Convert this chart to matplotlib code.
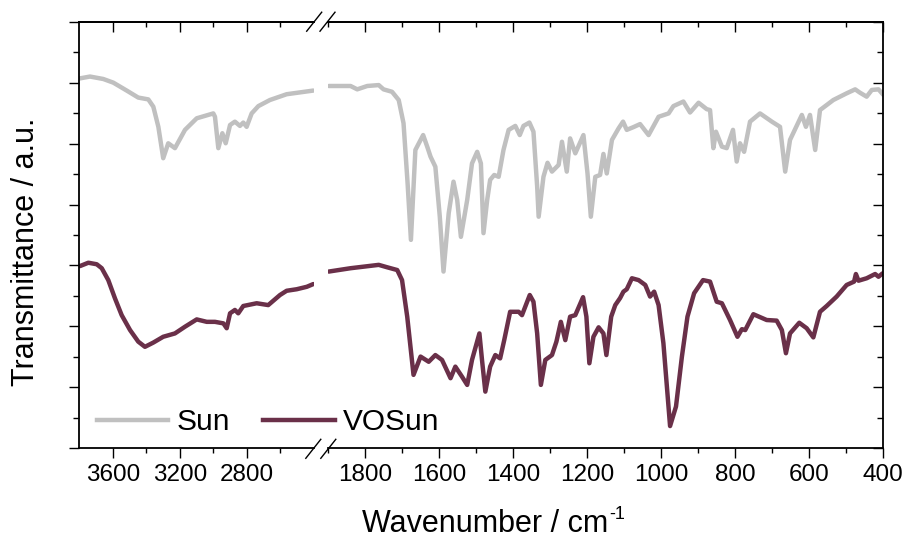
import numpy as np
import matplotlib
matplotlib.use('Agg')
import matplotlib.pyplot as plt
from matplotlib.lines import Line2D
from matplotlib.ticker import FixedLocator, MultipleLocator

plt.rcParams.update({'font.family': ['Liberation Sans', 'DejaVu Sans']})

GREY = '#c0c0c0'
PLUM = '#6a3049'

# Sun, high-wavenumber window (cm-1, a.u.)
sun_hi_wn = [3796, 3736, 3657, 3597, 3517, 3448, 3388, 3358, 3328, 3299, 3269, 3229, 3169,
             3099, 3000, 2990, 2970, 2946, 2926, 2900, 2871, 2841, 2821, 2801, 2771, 2731,
             2662, 2562, 2403]
sun_hi_t = [12.14, 12.20, 12.12, 12.00, 11.74, 11.51, 11.45, 11.21, 10.55, 9.52, 10.01, 9.85,
            10.45, 10.83, 10.99, 10.88, 9.85, 10.34, 10.01, 10.61, 10.72, 10.58, 10.69, 10.55,
            10.99, 11.23, 11.43, 11.62, 11.74]

# Sun, fingerprint window
sun_fp_wn = [1898, 1839, 1821, 1794, 1763, 1750, 1727, 1709, 1696, 1685, 1676, 1664, 1643,
             1632, 1623, 1610, 1598, 1588, 1574, 1561, 1551, 1541, 1524, 1511, 1497, 1487,
             1480, 1470, 1462, 1451, 1439, 1426, 1412, 1394, 1382, 1372, 1356, 1345, 1335,
             1331, 1318, 1307, 1295, 1277, 1268, 1255, 1246, 1232, 1210, 1199, 1190, 1178,
             1165, 1156, 1147, 1133, 1115, 1103, 1093, 1075, 1057, 1034, 1007, 980, 967,
             940, 922, 899, 877, 868, 859, 852, 836, 823, 806, 796, 787, 776, 760, 733,
             701, 679, 665, 652, 620, 609, 598, 584, 571, 535, 499, 476, 463, 445, 431,
             413, 400]
sun_fp_t = [11.89, 11.89, 11.78, 11.89, 11.92, 11.78, 11.70, 11.43, 10.67, 8.70, 6.84, 9.79,
            10.28, 9.90, 9.57, 9.24, 7.60, 5.80, 7.71, 8.75, 8.15, 6.94, 8.15, 9.35, 9.73,
            9.35, 7.06, 8.15, 8.81, 8.97, 8.91, 9.79, 10.45, 10.58, 10.28, 10.58, 10.69,
            10.39, 8.59, 7.60, 8.91, 9.37, 9.08, 9.30, 10.06, 9.08, 10.17, 9.68, 10.28, 9.02,
            7.60, 8.91, 8.97, 9.66, 9.02, 10.12, 10.50, 10.72, 10.45, 10.54, 10.64, 10.28,
            10.88, 10.99, 11.23, 11.38, 11.02, 11.34, 11.13, 11.10, 9.85, 10.39, 9.90, 9.85,
            10.45, 9.41, 10.01, 9.73, 10.72, 10.99, 10.72, 10.55, 9.08, 10.12, 10.94, 10.55,
            10.94, 9.79, 11.10, 11.43, 11.65, 11.78, 11.67, 11.54, 11.76, 11.78, 11.60]

# VOSun, high-wavenumber window
vos_hi_wn = [3796, 3746, 3696, 3666, 3627, 3587, 3547, 3497, 3448, 3408, 3358, 3299, 3229,
             3169, 3099, 3039, 2990, 2940, 2920, 2900, 2871, 2851, 2821, 2741, 2672, 2602,
             2562, 2502, 2442, 2403]
vos_hi_t = [5.98, 6.09, 6.04, 5.91, 5.52, 4.92, 4.37, 3.88, 3.50, 3.33, 3.47, 3.66, 3.77,
            3.99, 4.23, 4.15, 4.15, 4.10, 3.94, 4.43, 4.54, 4.43, 4.67, 4.76, 4.70, 5.03,
            5.17, 5.22, 5.30, 5.39]

# VOSun, fingerprint window
vos_fp_wn = [1898, 1839, 1763, 1740, 1713, 1700, 1686, 1669, 1650, 1628, 1610, 1592, 1569,
             1556, 1538, 1524, 1511, 1491, 1484, 1475, 1462, 1448, 1435, 1424, 1408, 1385,
             1376, 1355, 1345, 1335, 1325, 1313, 1295, 1283, 1271, 1259, 1246, 1232, 1211,
             1202, 1194, 1183, 1169, 1156, 1148, 1135, 1124, 1111, 1102, 1093, 1079, 1061,
             1043, 1030, 1019, 1007, 994, 976, 960, 944, 929, 911, 887, 868, 850, 836, 814,
             794, 782, 773, 751, 715, 688, 674, 663, 652, 627, 607, 589, 571, 553, 526, 499,
             479, 474, 467, 445, 422, 413, 402]
vos_fp_t = [5.80, 5.91, 6.02, 5.94, 5.85, 5.52, 4.32, 2.41, 3.01, 2.84, 3.06, 2.90, 2.30,
            2.68, 2.35, 2.08, 2.90, 3.77, 2.90, 1.86, 2.68, 3.06, 2.95, 3.55, 4.48, 4.48,
            4.37, 5.03, 4.81, 3.77, 2.08, 2.90, 3.06, 3.50, 4.15, 3.55, 4.32, 4.37, 4.96,
            4.32, 2.79, 3.66, 3.97, 3.77, 3.06, 4.32, 4.70, 4.93, 5.14, 5.22, 5.58, 5.52,
            5.36, 4.98, 5.14, 4.70, 3.45, 0.73, 1.37, 3.01, 4.32, 5.09, 5.52, 5.47, 4.81,
            4.76, 4.21, 3.66, 3.91, 3.88, 4.40, 4.21, 4.19, 3.88, 3.12, 3.77, 4.12, 3.94,
            3.64, 4.48, 4.67, 4.98, 5.36, 5.47, 5.72, 5.50, 5.58, 5.72, 5.63, 5.74]

W, H = 909, 538


def px_box(x0, x1, y0, y1):
    return [x0 / W, 1 - y1 / H, (x1 - x0) / W, (y1 - y0) / H]


def style_axes(ax, side, xmajor, xminor):
    ax.set_ylim(0, 14)
    ax.yaxis.set_major_locator(MultipleLocator(2))
    ax.yaxis.set_minor_locator(MultipleLocator(1))
    ax.xaxis.set_major_locator(FixedLocator(xmajor))
    ax.xaxis.set_minor_locator(FixedLocator(xminor))
    for sp in ax.spines.values():
        sp.set_linewidth(1.3)
    ax.spines['right' if side == 'left' else 'left'].set_visible(False)
    ax.tick_params(axis='x', which='major', direction='out', length=7, width=1, pad=4, labelsize=17.5)
    ax.tick_params(axis='x', which='minor', direction='out', length=3.5, width=1)
    if side == 'left':
        ax.tick_params(axis='y', which='major', direction='out', length=7, width=1, labelleft=False)
        ax.tick_params(axis='y', which='minor', direction='out', length=4, width=1)
    else:
        ax.yaxis.tick_right()
        ax.tick_params(axis='y', which='major', direction='in', length=7, width=1, labelright=False)
        ax.tick_params(axis='y', which='minor', direction='in', length=4, width=1)
    top = ax.secondary_xaxis('top')
    top.xaxis.set_major_locator(FixedLocator(xmajor))
    top.xaxis.set_minor_locator(FixedLocator(xminor))
    top.tick_params(axis='x', which='major', direction='in', length=7, width=1, labeltop=False)
    top.tick_params(axis='x', which='minor', direction='in', length=3.5, width=1)
    top.spines['top'].set_linewidth(1.3)


fig = plt.figure(figsize=(W / 100, H / 100), dpi=100)
axl = fig.add_axes(px_box(79.3, 313.8, 21.7, 448.3))
axr = fig.add_axes(px_box(328.0, 883.3, 21.7, 448.3))

lw = 3.2
kw = dict(lw=lw, solid_joinstyle='round', solid_capstyle='round')
axl.plot(sun_hi_wn, sun_hi_t, color=GREY, **kw)
axl.plot(vos_hi_wn, vos_hi_t, color=PLUM, **kw)
axr.plot(sun_fp_wn, sun_fp_t, color=GREY, **kw)
axr.plot(vos_fp_wn, vos_fp_t, color=PLUM, **kw)

axl.set_xlim(3800, 2400)
axr.set_xlim(1900, 400)
style_axes(axl, 'left', [3600, 3200, 2800], [3400, 3000, 2600])
style_axes(axr, 'right', list(range(1800, 399, -200)), list(range(1900, 400, -200)))

# axis-break marks
for cx, cy in [(314.2, 21.7), (327.5, 21.7), (313.3, 448.8), (328.3, 448.8)]:
    fig.add_artist(Line2D([(cx - 7.5) / W, (cx + 7.5) / W], [1 - (cy + 9.5) / H, 1 - (cy - 9.5) / H],
                          transform=fig.transFigure, color='black', lw=1.0))

# x label with a small "-1" superscript placed after the main text
xl = fig.text(361.7 / W, 1 - 531.7 / H, 'Wavenumber / cm', fontsize=22, ha='left', va='baseline')
fig.canvas.draw()
bb = xl.get_window_extent(renderer=fig.canvas.get_renderer())
fig.text((bb.x1 + 1) / W, 1 - 519 / H, '-1', fontsize=13, ha='left', va='baseline')

fig.text(26 / W, 1 - 252 / H, 'Transmittance / a.u.', fontsize=22, rotation=90, ha='center', va='center')

handles = [Line2D([], [], color=GREY, lw=lw), Line2D([], [], color=PLUM, lw=lw)]
fig.legend(handles, ['Sun', 'VOSun'], loc='center left', bbox_to_anchor=(96.7 / W, 1 - 422.3 / H),
           ncol=2, frameon=False, fontsize=21.5, borderpad=0, borderaxespad=0,
           handlelength=2.4, handletextpad=0.28, columnspacing=1.1)

fig.savefig('out.png', dpi=100)
